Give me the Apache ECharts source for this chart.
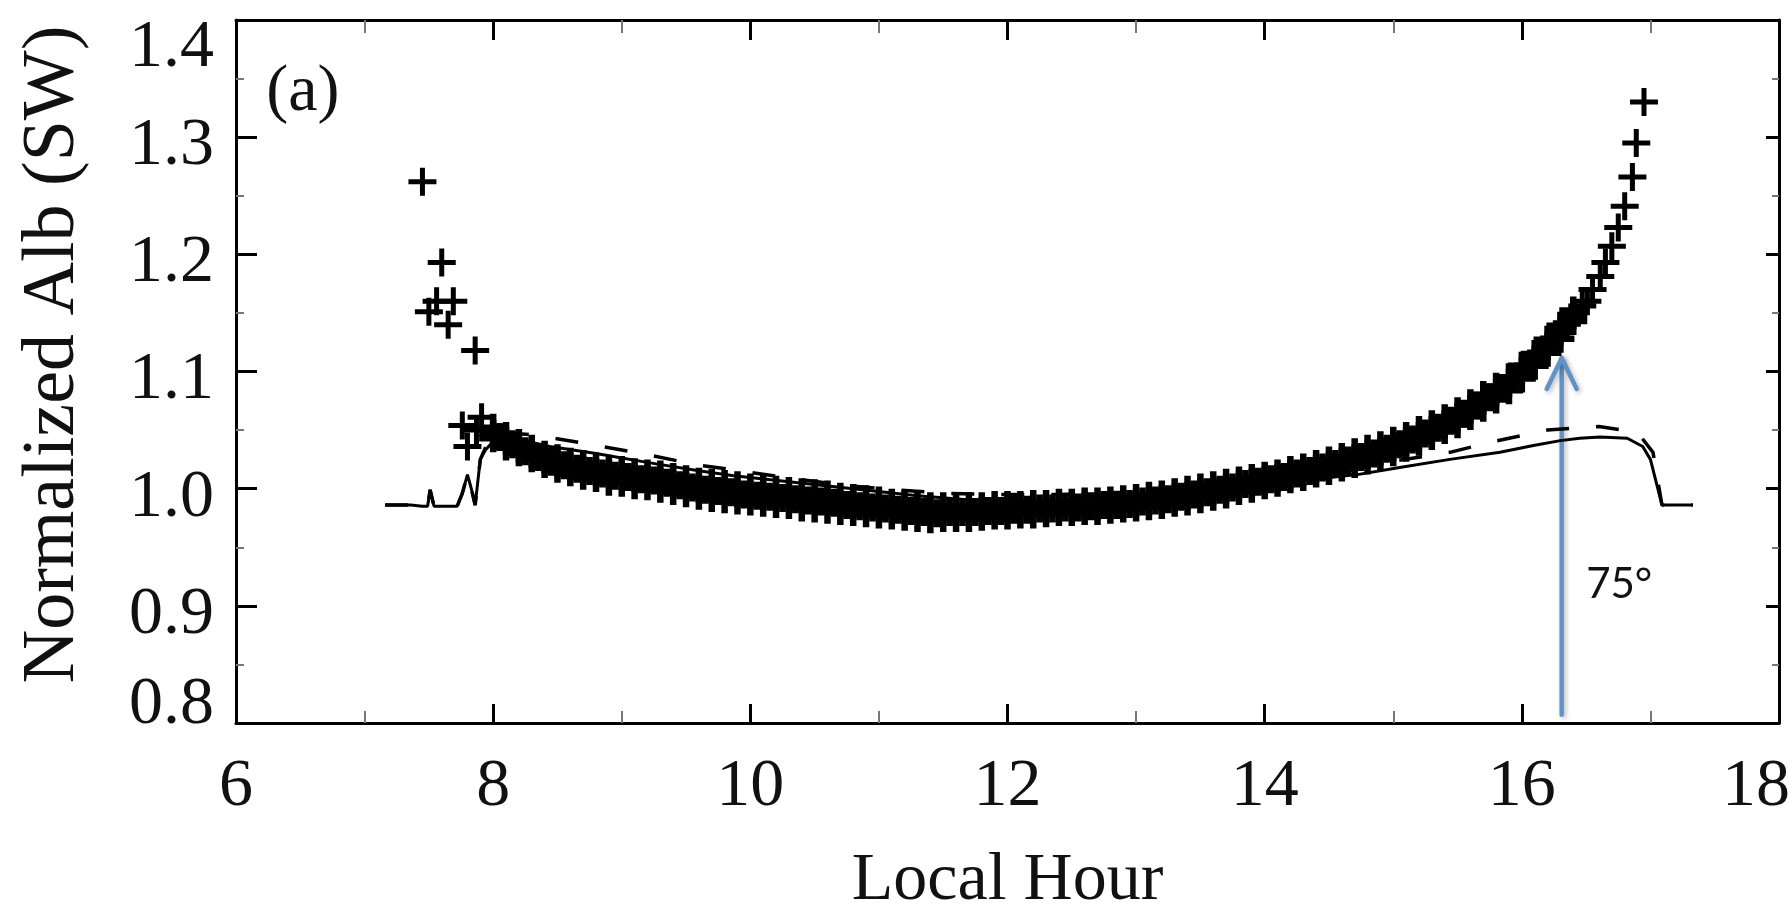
<!DOCTYPE html>
<html>
<head>
<meta charset="utf-8">
<script src="https://cdn.jsdelivr.net/npm/echarts@6/dist/echarts.min.js"></script>
<style>
html,body{margin:0;padding:0;background:#fff;}
#chart{width:1790px;height:906px;}
</style>
</head>
<body>
<div id="chart"></div>
<script>
// ---- axis ticks ----
const xTicks = [6, 8, 10, 12, 14, 16, 18];
const yTicks = [0.8, 0.9, 1.0, 1.1, 1.2, 1.3, 1.4];

// ---- observed normalized albedo ("+" markers), dense band ----
const obsHour = [8.0,8.1,8.2,8.3,8.4,8.5,8.6,8.7,8.8,8.9,9.0,9.1,9.2,9.3,9.4,9.5,9.6,9.7,9.8,9.9,
  10.0,10.1,10.2,10.3,10.4,10.5,10.6,10.7,10.8,10.9,11.0,11.1,11.2,11.3,11.4,11.5,11.6,11.7,11.8,11.9,
  12.0,12.1,12.2,12.3,12.4,12.5,12.6,12.7,12.8,12.9,13.0,13.1,13.2,13.3,13.4,13.5,13.6,13.7,13.8,13.9,
  14.0,14.1,14.2,14.3,14.4,14.5,14.6,14.7,14.8,14.9,15.0,15.1,15.2,15.3,15.4,15.5,15.6,15.7,15.8,15.9,
  16.0,16.1,16.2,16.3,16.4];
const obsUpper = [1.052,1.045,1.039,1.034,1.029,1.026,1.023,1.021,1.019,1.017,1.016,1.014,1.013,1.012,1.010,1.008,1.006,1.005,1.004,1.003,
  1.001,1.000,0.999,0.998,0.997,0.996,0.995,0.993,0.992,0.991,0.990,0.988,0.987,0.986,0.985,0.985,0.985,0.985,0.985,0.986,
  0.986,0.986,0.987,0.987,0.988,0.988,0.989,0.989,0.990,0.991,0.992,0.994,0.995,0.997,0.999,1.001,1.003,1.005,1.007,1.009,
  1.011,1.013,1.016,1.018,1.021,1.024,1.027,1.031,1.034,1.037,1.041,1.045,1.050,1.055,1.060,1.066,1.073,1.080,1.087,1.095,
  1.105,1.115,1.127,1.139,1.152];
const obsCenter = [1.047,1.041,1.035,1.030,1.025,1.022,1.019,1.016,1.014,1.012,1.011,1.009,1.008,1.006,1.004,1.002,1.000,0.999,0.998,0.996,
  0.995,0.994,0.993,0.992,0.991,0.990,0.989,0.987,0.986,0.985,0.984,0.983,0.982,0.981,0.980,0.980,0.980,0.980,0.981,0.981,
  0.982,0.982,0.983,0.983,0.984,0.984,0.985,0.985,0.986,0.987,0.988,0.989,0.991,0.992,0.994,0.996,0.998,1.000,1.003,1.005,
  1.007,1.009,1.012,1.014,1.017,1.020,1.023,1.026,1.029,1.032,1.036,1.040,1.045,1.050,1.055,1.061,1.068,1.075,1.082,1.090,
  1.100,1.110,1.122,1.134,1.148];
const obsLower = [1.043,1.036,1.031,1.026,1.021,1.017,1.014,1.011,1.009,1.006,1.005,1.003,1.002,1.000,0.998,0.996,0.994,0.992,0.991,0.990,
  0.989,0.988,0.987,0.986,0.984,0.983,0.982,0.981,0.980,0.979,0.978,0.977,0.976,0.975,0.974,0.975,0.975,0.975,0.976,0.977,
  0.977,0.978,0.978,0.979,0.980,0.980,0.981,0.981,0.982,0.983,0.984,0.985,0.986,0.988,0.989,0.991,0.993,0.995,0.998,1.000,
  1.003,1.005,1.008,1.010,1.013,1.015,1.018,1.021,1.024,1.027,1.031,1.035,1.040,1.045,1.050,1.055,1.062,1.069,1.076,1.084,
  1.094,1.105,1.116,1.128,1.143];
const obsMidHour = [8.05,8.15,8.25,8.35,8.45,8.55,8.65,8.75,8.85,8.95,9.05,9.15,9.25,9.35,9.45,9.55,9.65,9.75,9.85,9.95,
  10.05,10.15,10.25,10.35,10.45,10.55,10.65,10.75,10.85,10.95,11.05,11.15,11.25,11.35,11.45,11.55,11.65,11.75,11.85,11.95,
  12.05,12.15,12.25,12.35,12.45,12.55,12.65,12.75,12.85,12.95,13.05,13.15,13.25,13.35,13.45,13.55,13.65,13.75,13.85,13.95,
  14.05,14.15,14.25,14.35,14.45,14.55,14.65,14.75,14.85,14.95,15.05,15.15,15.25,15.35,15.45,15.55,15.65,15.75,15.85,15.95,
  16.05,16.15,16.25,16.35];
const obsMid = [1.044,1.038,1.032,1.027,1.023,1.020,1.017,1.015,1.013,1.011,1.010,1.008,1.007,1.005,1.003,1.001,0.999,0.998,0.997,0.995,
  0.994,0.993,0.992,0.991,0.990,0.989,0.988,0.986,0.985,0.984,0.983,0.982,0.981,0.980,0.979,0.980,0.980,0.980,0.981,0.981,
  0.982,0.982,0.983,0.983,0.984,0.984,0.985,0.986,0.986,0.987,0.989,0.990,0.991,0.993,0.995,0.997,0.999,1.001,1.004,1.006,
  1.008,1.010,1.013,1.015,1.018,1.021,1.024,1.027,1.030,1.034,1.038,1.042,1.047,1.052,1.058,1.064,1.071,1.078,1.086,1.095,
  1.105,1.116,1.128,1.141];
// sparse observed points (morning outliers and late-afternoon tail)
const obsSparseHour = [7.45,7.60,7.50,7.56,7.69,7.65,7.86,7.76,7.80,7.87,7.91,
  16.47,16.51,16.55,16.61,16.65,16.70,16.75,16.80,16.86,16.89,16.95];
const obsSparseVal  = [1.262,1.193,1.151,1.160,1.160,1.140,1.118,1.054,1.036,1.050,1.061,
  1.156,1.160,1.170,1.181,1.193,1.207,1.223,1.241,1.266,1.295,1.330];

// ---- model (solid line) ----
const solidHour = [7.16,7.36,7.45,7.49,7.51,7.54,7.60,7.72,7.76,7.80,7.83,7.86,7.90,7.94,7.98,8.05,8.2,8.44,8.8,9.22,9.61,9.87,
  10.3,10.8,11.3,11.76,12.2,12.7,13.2,13.7,14.2,14.72,15.05,15.44,15.83,16.1,16.3,16.45,16.61,16.82,16.94,17.0,17.09,17.33];
const solidVal  = [0.986,0.986,0.985,0.985,0.999,0.985,0.985,0.985,0.996,1.012,1.000,0.986,1.025,1.033,1.038,1.043,1.042,1.036,1.030,1.022,1.015,1.011,
  1.006,1.000,0.994,0.990,0.989,0.991,0.995,1.000,1.006,1.012,1.018,1.025,1.031,1.037,1.041,1.043,1.044,1.043,1.036,1.025,0.986,0.986];

// ---- model (dashed line) ----
const dashHour = [7.16,7.36,7.45,7.49,7.51,7.54,7.60,7.72,7.76,7.80,7.83,7.86,7.90,7.94,7.98,8.05,8.31,8.8,9.2,9.6,9.87,
  10.31,10.72,11.14,11.53,11.89,12.4,12.9,13.4,13.9,14.4,14.97,15.44,15.77,16.2,16.6,16.9,17.02,17.09,17.33];
const dashVal  = [0.986,0.986,0.985,0.985,0.999,0.985,0.985,0.985,0.996,1.012,1.000,0.986,1.025,1.035,1.042,1.048,1.046,1.037,1.029,1.020,1.016,
  1.009,1.003,0.999,0.996,0.995,0.995,0.997,1.001,1.006,1.013,1.023,1.031,1.040,1.050,1.053,1.048,1.031,0.986,0.986];

// ---- annotations ----
const arrowHour = 16.31, arrowFrom = 0.807, arrowTo = 1.1116;
const annoHour = [6.52, 16.50];
const annoVal  = [1.338, 0.918];
const annoText = ['(a)', '75°'];

const serif = "'Liberation Serif', 'Times New Roman', serif";
const plusBand = 'path://M10.75,0H17.25V10.75H28V17.25H17.25V28H10.75V17.25H0V10.75H10.75Z';
const plusSparse = 'path://M11.5,0H16.5V11.5H28V16.5H16.5V28H11.5V16.5H0V11.5H11.5Z';
const arrowColor = '#6193c9';

const zip = (a, b) => a.map((v, i) => [v, b[i]]);

const chart = echarts.init(document.getElementById('chart'));

const tickX = (pos, len, minorLen) => ({
  type: 'value', min: xTicks[0], max: xTicks[xTicks.length - 1], interval: 2, position: pos,
  axisLine: { show: true, onZero: false, lineStyle: { color: '#000', width: 3 } },
  axisTick: { show: true, inside: true, length: len, lineStyle: { color: '#000', width: 3 } },
  minorTick: { show: true, splitNumber: 2, length: minorLen, lineStyle: { color: '#777', width: 2 } },
  splitLine: { show: false }, minorSplitLine: { show: false }
});
const tickY = (pos, len, minorLen) => ({
  type: 'value', min: yTicks[0], max: yTicks[yTicks.length - 1], interval: 0.1, position: pos,
  axisLine: { show: true, onZero: false, lineStyle: { color: '#000', width: 3 } },
  axisTick: { show: true, inside: true, length: len, lineStyle: { color: '#000', width: 3 } },
  minorTick: { show: true, splitNumber: 2, length: minorLen, lineStyle: { color: '#777', width: 2 } },
  splitLine: { show: false }, minorSplitLine: { show: false }
});

const labelFont = { fontFamily: serif, fontSize: 68, color: '#111' };

const xBottom = Object.assign(tickX('bottom', 19, 12), {
  name: 'Local Hour', nameLocation: 'middle', nameGap: 124,
  nameTextStyle: { fontFamily: serif, fontSize: 68, color: '#111' },
  axisLabel: Object.assign({
    show: true, margin: 30,
    formatter: v => (v === 18 ? '{e|' + v + '}' : String(v)),
    rich: { e: Object.assign({ padding: [0, 46, 0, 0] }, labelFont) }
  }, labelFont)
});
const xTop = Object.assign(tickX('top', 20, 13), { axisLabel: { show: false } });
const yLeft = Object.assign(tickY('left', 21, 8), {
  name: 'Normalized Alb (SW)', nameLocation: 'middle', nameGap: 145,
  nameTextStyle: { fontFamily: serif, fontSize: 74, color: '#111', padding: [0, 0, 0, 34] },
  axisLabel: Object.assign({
    show: true, margin: 22,
    formatter: v => {
      const s = v.toFixed(1);
      if (Math.abs(v - 1.4) < 1e-6) return '{t|' + s + '}';
      if (Math.abs(v - 0.8) < 1e-6) return '{b|' + s + '}';
      return '{m|' + s + '}';
    },
    rich: {
      t: Object.assign({ padding: [56, 0, 0, 0] }, labelFont),
      m: Object.assign({ padding: [18, 0, 0, 0] }, labelFont),
      b: Object.assign({ padding: [0, 0, 36, 0] }, labelFont)
    }
  }, labelFont)
});
const yRight = Object.assign(tickY('right', 13, 7), { axisLabel: { show: false } });

const plusSeries = (name, data, sym) => ({
  name, type: 'scatter', xAxisIndex: 0, yAxisIndex: 0, data,
  symbol: sym, symbolSize: 28,
  itemStyle: { color: '#000', opacity: 1 }, silent: true
});

chart.setOption({
  animation: false,
  backgroundColor: '#fff',
  textStyle: { fontFamily: serif },
  grid: { left: 236, top: 20, right: 11, bottom: 183, containLabel: false, outerBoundsMode: 'none' },
  xAxis: [xBottom, xTop],
  yAxis: [yLeft, yRight],
  series: [
    plusSeries('obs-upper', zip(obsHour, obsUpper), plusBand),
    plusSeries('obs-center', zip(obsHour, obsCenter), plusBand),
    plusSeries('obs-lower', zip(obsHour, obsLower), plusBand),
    plusSeries('obs-mid', zip(obsMidHour, obsMid), plusBand),
    plusSeries('obs-sparse', zip(obsSparseHour, obsSparseVal), plusSparse),
    {
      name: 'model-solid', type: 'line', xAxisIndex: 0, yAxisIndex: 0,
      data: zip(solidHour, solidVal), showSymbol: false, symbol: 'none',
      lineStyle: { color: '#000', width: 3 }, silent: true
    },
    {
      name: 'model-dashed', type: 'line', xAxisIndex: 0, yAxisIndex: 0,
      data: zip(dashHour, dashVal), showSymbol: false, symbol: 'none',
      lineStyle: { color: '#000', width: 3.5, type: [23, 27] }, silent: true
    },
    {
      name: 'arrow', type: 'custom', xAxisIndex: 0, yAxisIndex: 0, silent: true,
      data: [[arrowHour, arrowFrom, arrowTo]],
      encode: { x: 0, y: [1, 2] },
      renderItem: function (params, api) {
        const base = api.coord([api.value(0), api.value(1)]);
        const tip = api.coord([api.value(0), api.value(2)]);
        const st = { stroke: arrowColor, lineWidth: 4.5, fill: 'none', lineCap: 'round', lineJoin: 'round',
          shadowBlur: 5, shadowColor: 'rgba(0,0,0,0.28)', shadowOffsetX: 2, shadowOffsetY: 2 };
        return { type: 'group', children: [
          { type: 'line', shape: { x1: base[0], y1: base[1], x2: tip[0], y2: tip[1] }, style: st },
          { type: 'polyline', shape: { points: [[tip[0] - 15, tip[1] + 31], [tip[0], tip[1]], [tip[0] + 15, tip[1] + 31]] }, style: st }
        ] };
      }
    },
    {
      name: 'annotations', type: 'custom', xAxisIndex: 0, yAxisIndex: 0, silent: true,
      data: zip(annoHour, annoVal),
      renderItem: function (params, api) {
        const p = api.coord([api.value(0), api.value(1)]);
        const i = params.dataIndex;
        const isDeg = annoText[i] === '75°';
        return { type: 'text', x: p[0], y: p[1], style: {
          text: annoText[i],
          fontFamily: isDeg ? 'Lato' : serif,
          fontSize: isDeg ? 42 : 66,
          fill: '#111',
          align: isDeg ? 'left' : 'center',
          verticalAlign: 'middle'
        } };
      }
    }
  ]
});
</script>
</body>
</html>
